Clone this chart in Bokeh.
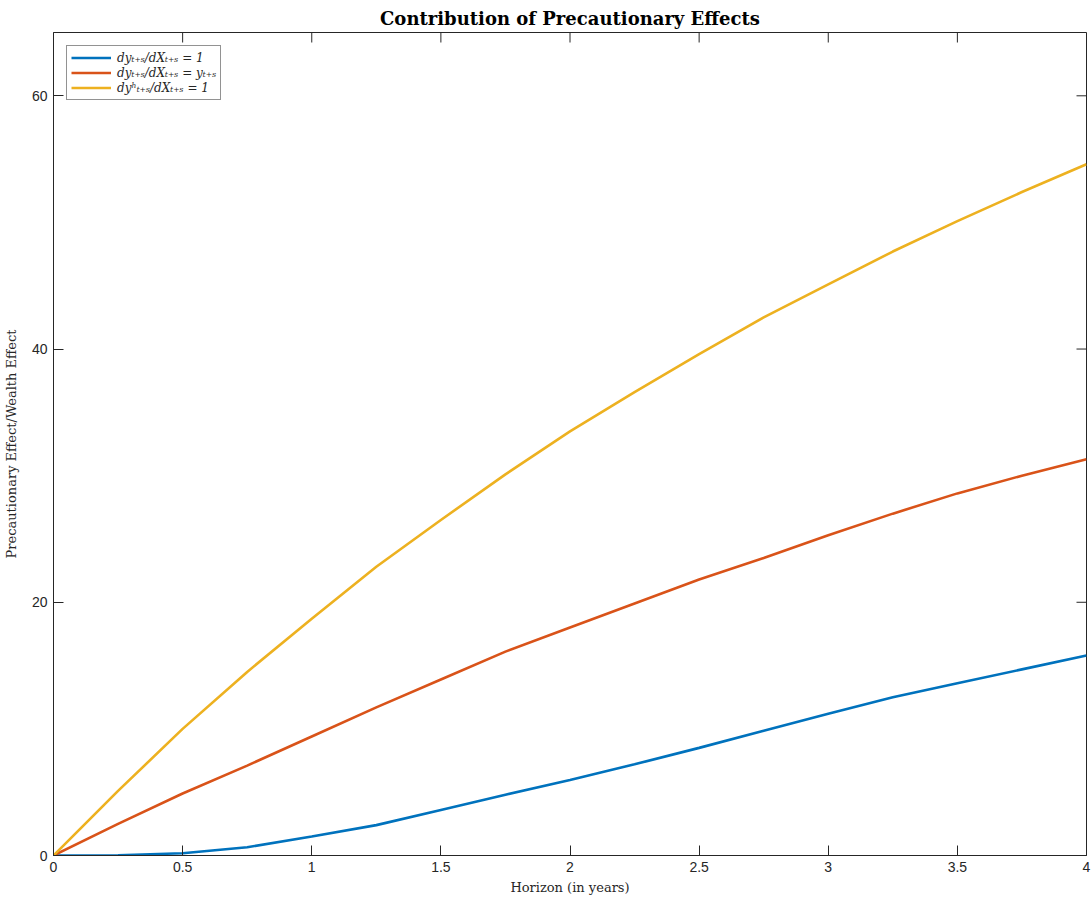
import math

from bokeh.plotting import figure
from bokeh.models import FixedTicker, Range1d, Legend, LegendItem
from bokeh.embed import file_html
from bokeh.resources import INLINE

# Horizon in years (quarterly steps)
horizon = [0, 0.25, 0.5, 0.75, 1, 1.25, 1.5, 1.75, 2, 2.25, 2.5, 2.75, 3, 3.25, 3.5, 3.75, 4]

# Precautionary effect relative to wealth effect, by income response assumption
unit_response = [0, 0.02, 0.18, 0.65, 1.5, 2.4, 3.6, 4.8, 5.97, 7.2, 8.5, 9.85, 11.2, 12.5, 13.6, 14.7, 15.8]
income_response = [0, 2.5, 4.9, 7.1, 9.4, 11.7, 13.9, 16.1, 18.0, 19.9, 21.8, 23.5, 25.3, 27.0, 28.6, 30.0, 31.3]
household_response = [0, 5.1, 10.0, 14.5, 18.7, 22.8, 26.5, 30.1, 33.5, 36.6, 39.6, 42.5, 45.1, 47.7, 50.1, 52.4, 54.6]

series_labels = [
    "dy\u209c\u208a\u209b/dX\u209c\u208a\u209b = 1",
    "dy\u209c\u208a\u209b/dX\u209c\u208a\u209b = y\u209c\u208a\u209b",
    "dy\u02b0\u209c\u208a\u209b/dX\u209c\u208a\u209b = 1",
]
series_colors = ["#0072BD", "#D95319", "#EDB120"]

x_limits = (0, 4)
y_limits = (0, 65)
x_ticks = [0, 0.5, 1, 1.5, 2, 2.5, 3, 3.5, 4]
x_tick_labels = ["0", "0.5", "1", "1.5", "2", "2.5", "3", "3.5", "4"]
y_ticks = [0, 20, 40, 60]
y_tick_labels = ["0", "20", "40", "60"]

AX = "#262626"
SERIF = "DejaVu Serif"
SANS = "Liberation Sans"
TICK_LEN = 10

p = figure(
    width=1091, height=900,
    x_range=Range1d(*x_limits), y_range=Range1d(*y_limits),
    output_backend="svg", toolbar_location=None,
    min_border_left=53, min_border_right=5, min_border_top=32, min_border_bottom=45,
    x_axis_label="Horizon (in years)",
    y_axis_label="Precautionary Effect/Wealth Effect",
)
p.background_fill_color = "white"
p.border_fill_color = "white"
p.outline_line_color = AX
p.outline_line_width = 1
p.xgrid.visible = False
p.ygrid.visible = False

p.title.text = "Contribution of Precautionary Effects"
p.title.align = "center"
p.title.text_font = SERIF
p.title.text_font_style = "bold"
p.title.text_font_size = "18px"
p.title.text_color = "black"
p.title.standoff = 8

xt = FixedTicker(ticks=x_ticks)
yt = FixedTicker(ticks=y_ticks)

p.xaxis.ticker = xt
p.xaxis.major_label_overrides = dict(zip(x_ticks, x_tick_labels))
p.yaxis.ticker = yt
p.yaxis.major_label_overrides = dict(zip(y_ticks, y_tick_labels))

for ax in list(p.xaxis) + list(p.yaxis):
    ax.axis_line_color = AX
    ax.major_tick_line_color = AX
    ax.major_tick_in = TICK_LEN
    ax.major_tick_out = 0
    ax.minor_tick_line_color = None
    ax.major_label_text_font = SANS
    ax.major_label_text_font_size = "14px"
    ax.major_label_text_color = AX
    ax.axis_label_text_font = SERIF
    ax.axis_label_text_font_size = "13px"
    ax.axis_label_text_font_style = "normal"
    ax.axis_label_text_color = AX

p.xaxis.major_label_standoff = 6
p.xaxis.axis_label_standoff = 5
p.yaxis.major_label_standoff = 6
p.yaxis.axis_label_standoff = 10

# mirrored inner ticks along the top and right edges of the box
p.ray(x=x_ticks, y=[y_limits[1]] * len(x_ticks), length=TICK_LEN, length_units="screen",
      angle=-math.pi / 2, line_color=AX, line_width=1)
p.ray(x=[x_limits[1]] * len(y_ticks), y=y_ticks, length=TICK_LEN, length_units="screen",
      angle=math.pi, line_color=AX, line_width=1)

renderers = []
for ys, c in zip([unit_response, income_response, household_response], series_colors):
    r = p.line(horizon, ys, line_color=c, line_width=2.6)
    renderers.append(r)

legend = Legend(
    items=[LegendItem(label=lab, renderers=[r]) for lab, r in zip(series_labels, renderers)],
    location="top_left",
    margin=13,
    padding=4,
    spacing=0,
    glyph_width=40,
    glyph_height=15,
    label_height=15,
    label_standoff=6,
    label_text_font=SERIF,
    label_text_font_style="italic",
    label_text_font_size="12px",
    label_text_color=AX,
    border_line_color=AX,
    border_line_width=1,
    background_fill_alpha=1,
)
p.add_layout(legend, "center")

open("out.html", "w").write(file_html(p, INLINE))
